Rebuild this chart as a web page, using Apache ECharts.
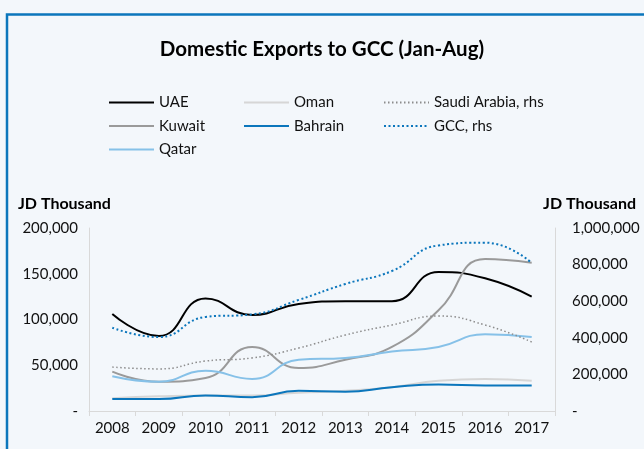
<!DOCTYPE html>
<html>
<head>
<meta charset="utf-8">
<script src="https://cdn.jsdelivr.net/npm/echarts@6/dist/echarts.min.js"></script>
<style>
html, body { margin: 0; padding: 0; background: #f3f7fb; }
#container { width: 644px; height: 449px; }
</style>
</head>
<body>
<div id="container"></div>
<script>
var years = ['2008', '2009', '2010', '2011', '2012', '2013', '2014', '2015', '2016', '2017'];

// JD thousand, left axis
var uae     = [106000, 82000, 123000, 105000, 117000, 120000, 120000, 152000, 145000, 125000];
var kuwait  = [43000, 32000, 36000, 70000, 47000, 56000, 70000, 110000, 166000, 162000];
var qatar   = [38000, 32000, 44000, 35000, 56000, 58000, 65000, 70000, 84000, 81000];
var oman    = [14000, 16000, 17000, 17000, 20000, 22000, 26000, 33000, 35000, 33000];
var bahrain = [13000, 13000, 17000, 15000, 22000, 21000, 26000, 29000, 28000, 28000];
// JD thousand, right axis
var saudi   = [240000, 230000, 273000, 290000, 344000, 415000, 470000, 519000, 470000, 377000];
var gcc     = [455000, 404000, 514000, 528000, 607000, 694000, 765000, 905000, 920000, 809000];

var dom = document.getElementById("container");
var myChart = echarts.init(dom);

var fnt = 'Lato';

function numFmt(v) {
    if (v === 0) return '-';
    return v.toString().replace(/\B(?=(\d{3})+(?!\d))/g, ',');
}

function line(name, data, color, width, type, axis) {
    return {
        name: name,
        type: 'line',
        yAxisIndex: axis || 0,
        data: data,
        smooth: 0.5,
        symbol: 'none',
        lineStyle: { color: color, width: width, type: type || 'solid' },
        itemStyle: { color: color }
    };
}

var legendBase = {
    orient: 'vertical',
    top: 90,
    padding: 5,
    itemWidth: 45,
    itemHeight: 14,
    itemGap: 8.5,
    itemStyle: { opacity: 0 },
    textStyle: { fontFamily: fnt, fontSize: 15, color: '#111' }
};

var option = {
    backgroundColor: '#f3f7fb',
    animation: false,
    title: [
        { text: 'Domestic Exports to GCC (Jan-Aug)', left: 'center', top: 34,
          textStyle: { fontFamily: fnt, fontSize: 20.5, fontWeight: 'bold', color: '#000' } },
        { text: 'JD Thousand', left: 18, top: 196, padding: 0,
          textStyle: { fontFamily: fnt, fontSize: 16, fontWeight: 'bold', color: '#000' } },
        { text: 'JD Thousand', right: 8, top: 196, padding: 0,
          textStyle: { fontFamily: fnt, fontSize: 16, fontWeight: 'bold', color: '#000' } }
    ],
    legend: [
        Object.assign({}, legendBase, { left: 103, data: ['UAE', 'Kuwait', 'Qatar'] }),
        Object.assign({}, legendBase, { left: 238, data: ['Oman', 'Bahrain'] }),
        Object.assign({}, legendBase, { left: 378, data: ['Saudi Arabia, rhs', 'GCC, rhs'] })
    ],
    grid: { left: 89, right: 89, top: 228, bottom: 38 },
    xAxis: {
        type: 'category',
        data: years,
        boundaryGap: true,
        axisLine: { lineStyle: { color: '#d9d9d9', width: 1 } },
        axisTick: { show: true, length: 5, lineStyle: { color: '#d9d9d9' } },
        axisLabel: { fontFamily: fnt, fontSize: 15, color: '#111', margin: 10 }
    },
    yAxis: [
        {
            type: 'value', min: 0, max: 200000, interval: 50000,
            axisLine: { show: true, lineStyle: { color: '#d9d9d9' } },
            axisTick: { show: false },
            splitLine: { show: false },
            axisLabel: { fontFamily: fnt, fontSize: 15, color: '#111', margin: 11, formatter: numFmt }
        },
        {
            type: 'value', min: 0, max: 1000000, interval: 200000,
            axisLine: { show: true, lineStyle: { color: '#d9d9d9' } },
            axisTick: { show: false },
            splitLine: { show: false },
            axisLabel: { fontFamily: fnt, fontSize: 15, color: '#111', margin: 17, formatter: numFmt }
        }
    ],
    graphic: [
        { type: 'rect', silent: true, z: 100,
          shape: { x: 7, y: 14.5, width: 700, height: 500 },
          style: { fill: null, stroke: '#0b76bc', lineWidth: 2.5 } }
    ],
    series: [
        line('UAE', uae, '#000000', 2),
        line('Kuwait', kuwait, '#9a9a9a', 2),
        line('Qatar', qatar, '#86c1e8', 2),
        line('Oman', oman, '#d6d6d6', 2),
        line('Bahrain', bahrain, '#0b76bc', 2),
        line('Saudi Arabia, rhs', saudi, '#8c8c8c', 1.5, [1.5, 2.5], 1),
        line('GCC, rhs', gcc, '#0b76bc', 2, [2, 2.5], 1)
    ]
};

if (option && typeof option === "object") {
    myChart.setOption(option, true);
}
</script>
</body>
</html>
